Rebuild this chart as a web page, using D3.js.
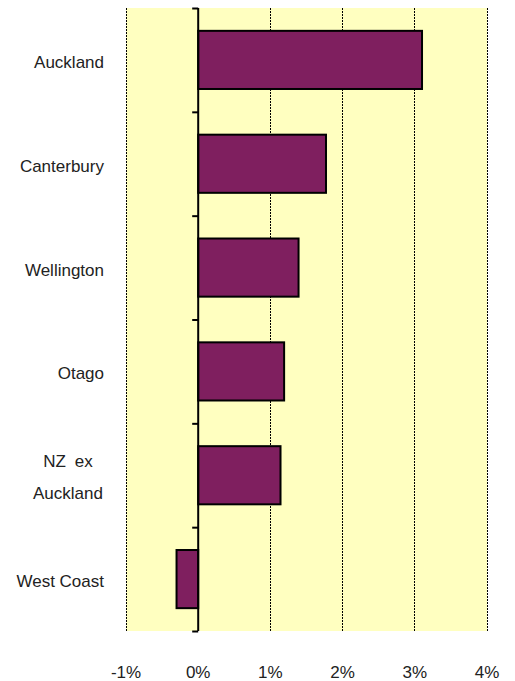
<!DOCTYPE html>
<html>
<head>
<meta charset="utf-8">
<script src="https://cdn.jsdelivr.net/npm/d3@7"></script>
<style>
    body { margin: 0; background: #fff; }
    text { font-family: "Liberation Sans", Arial, sans-serif; fill: #222; }
</style>
</head>
<body>
<div id="chart"></div>
<script>
//Datos
const regiones = ['Auckland', 'Canterbury', 'Wellington', 'Otago', 'NZ ex Auckland', 'West Coast'];
const valores = [3.1, 1.77, 1.39, 1.19, 1.14, -0.3];
const ticksX = [-1, 0, 1, 2, 3, 4];

//Colores fijos
const COLOR_BAR = '#7F1F5F',
COLOR_BG = '#FFFFC0';

let margin = {top: 8, right: 28, bottom: 50, left: 126},
    width = 515 - margin.left - margin.right,
    height = 681 - margin.top - margin.bottom;

let svg = d3.select('#chart')
    .append('svg')
        .attr('width', 515)
        .attr('height', 681)
    .append('g')
        .attr('transform', 'translate(' + margin.left + ',' + margin.top + ')');

let x = d3.scaleLinear()
    .domain([-1, 4])
    .range([0, width]);

let y = d3.scaleBand()
    .domain(regiones)
    .range([0, height])
    .paddingInner(0.44)
    .paddingOuter(0.22);

//Fondo
svg.append('rect')
    .attr('x', 0).attr('y', 0)
    .attr('width', width).attr('height', height)
    .attr('fill', COLOR_BG);

//Rejilla
svg.append('g')
    .selectAll('line')
    .data(ticksX.filter(function(d) { return d != 0; }))
    .enter()
    .append('line')
    .attr('x1', function(d) { return x(d); })
    .attr('x2', function(d) { return x(d); })
    .attr('y1', 0)
    .attr('y2', height)
    .attr('stroke', '#000')
    .attr('stroke-width', 1)
    .attr('stroke-dasharray', '2,1')
    .attr('shape-rendering', 'crispEdges');

//Barras
svg.append('g')
    .selectAll('rect')
    .data(regiones)
    .enter()
    .append('rect')
    .attr('x', function(d, i) { return x(Math.min(0, valores[i])); })
    .attr('y', function(d) { return y(d); })
    .attr('width', function(d, i) { return Math.abs(x(valores[i]) - x(0)); })
    .attr('height', y.bandwidth())
    .attr('fill', COLOR_BAR)
    .attr('stroke', '#000')
    .attr('stroke-width', 2);

//Eje vertical en 0
let yAxis = d3.axisLeft(d3.scaleLinear().domain([0, regiones.length]).range([0, height]))
    .ticks(regiones.length)
    .tickSize(6)
    .tickFormat('');

svg.append('g')
    .attr('transform', 'translate(' + x(0) + ',0)')
    .call(yAxis)
    .call(function(g) {
        g.select('.domain').attr('stroke-width', 2).attr('d', 'M0,0V' + height);
        g.selectAll('.tick line').attr('stroke-width', 2);
    });

//Etiquetas de categorías
let labels = svg.append('g')
    .selectAll('text')
    .data(regiones)
    .enter()
    .append('text')
    .attr('font-size', 17);

labels.each(function(d) {
    let t = d3.select(this);
    let cy = y(d) + y.bandwidth() / 2;
    if (d == 'NZ ex Auckland') {
        t.attr('text-anchor', 'middle');
        t.append('tspan').attr('x', -58).attr('y', cy - 8).attr('word-spacing', 4).text('NZ ex');
        t.append('tspan').attr('x', -58).attr('y', cy + 24).text('Auckland');
    } else {
        t.attr('text-anchor', 'end').attr('x', -22).attr('y', cy + 8).text(d);
    }
});

//Eje X
svg.append('g')
    .selectAll('text')
    .data(ticksX)
    .enter()
    .append('text')
    .attr('x', function(d) { return x(d); })
    .attr('y', height + 47)
    .attr('text-anchor', 'middle')
    .attr('font-size', 17)
    .text(function(d) { return d + '%'; });
</script>
</body>
</html>
